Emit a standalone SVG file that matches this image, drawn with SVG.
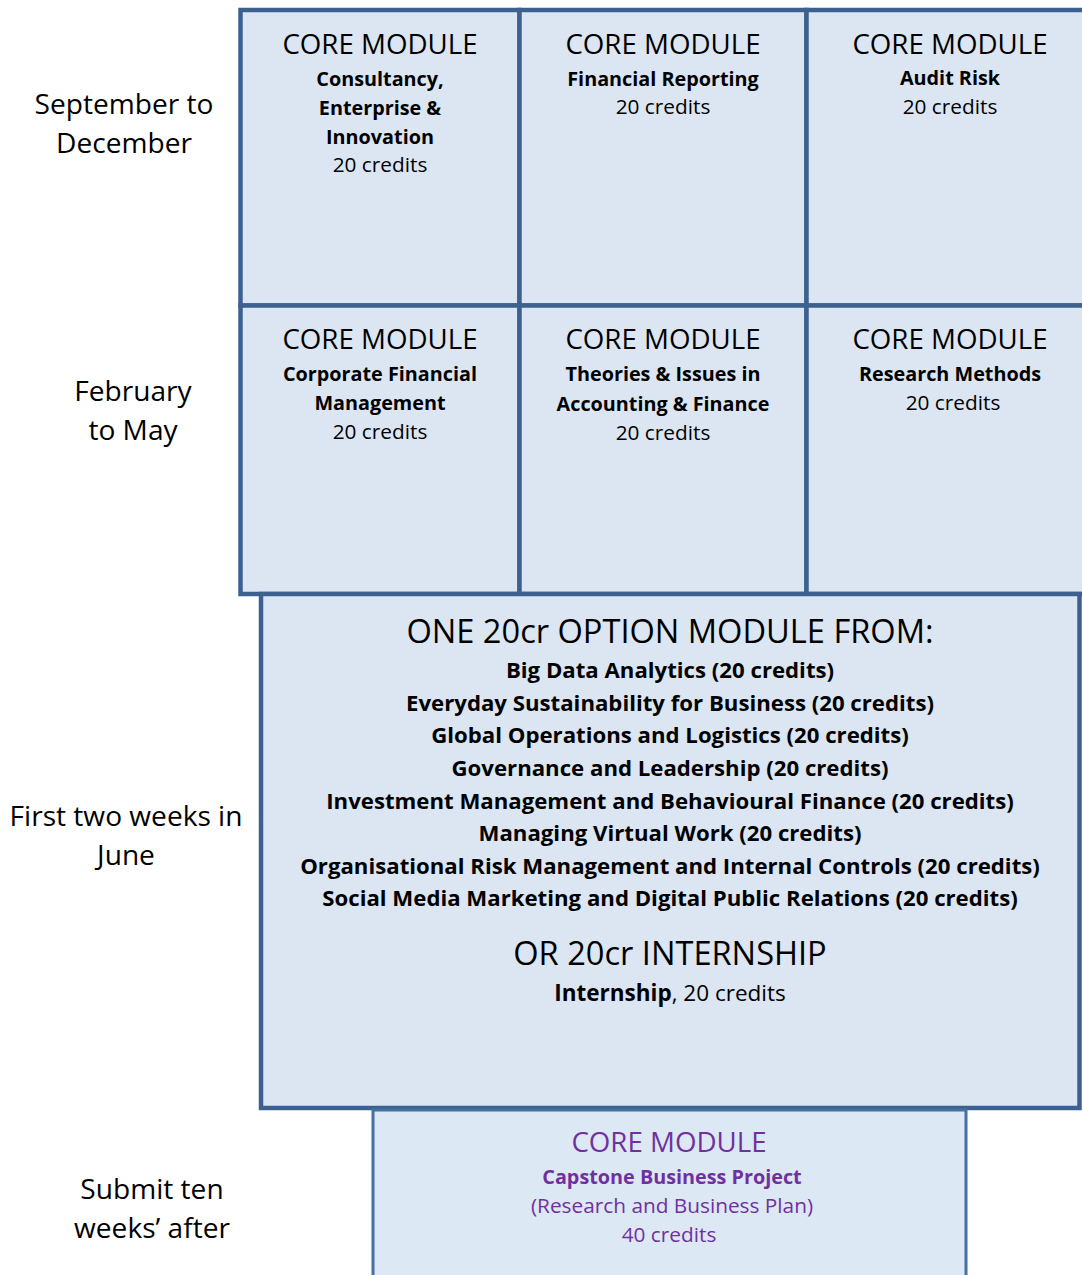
<svg xmlns="http://www.w3.org/2000/svg" width="1082" height="1275" viewBox="0 0 1082 1275">
<style>
text{font-family:"Open Sans","Noto Sans",sans-serif;fill:#000;text-anchor:middle}
.box{fill:#dce6f2;stroke:#3c6191;stroke-width:4.5}
.cap{fill:#dde8f5;stroke:#4570a0;stroke-width:3}
.h{font-size:27.7px}
.b{font-size:19.8px;font-weight:bold}
.n{font-size:20.8px}
.lab{font-size:28.1px}
.big{font-size:32.6px}
.ob{font-size:22.2px;font-weight:bold}
.on{font-size:22.5px}
.p{fill:#7030a0}
</style>
<rect width="1082" height="1275" fill="#fff"/>
<g id="labels">
<text class="lab" x="124" y="114">September to</text>
<text class="lab" x="124" y="153">December</text>
<text class="lab" x="133" y="401">February</text>
<text class="lab" x="133" y="440">to May</text>
<text class="lab" x="126" y="826">First two weeks in</text>
<text class="lab" x="126" y="865">June</text>
<text class="lab" x="152" y="1199">Submit ten</text>
<text class="lab" x="152" y="1238">weeks’ after</text>
</g>
<g id="m1">
<rect class="box" x="240.5" y="10" width="279" height="295.5"/>
<text class="h" x="380" y="54">CORE MODULE</text>
<text class="b" x="380" y="86">Consultancy,</text>
<text class="b" x="380" y="115">Enterprise &amp;</text>
<text class="b" x="380" y="144">Innovation</text>
<text class="n" x="380" y="172">20 credits</text>
</g>
<g id="m2">
<rect class="box" x="519.5" y="10" width="287" height="295.5"/>
<text class="h" x="663" y="54">CORE MODULE</text>
<text class="b" x="663" y="86">Financial Reporting</text>
<text class="n" x="663" y="114">20 credits</text>
</g>
<g id="m3">
<rect class="box" x="806.5" y="10" width="290" height="295.5"/>
<text class="h" x="950" y="54">CORE MODULE</text>
<text class="b" x="950" y="85">Audit Risk</text>
<text class="n" x="950" y="114">20 credits</text>
</g>
<g id="m4">
<rect class="box" x="240.5" y="305.5" width="279" height="288.5"/>
<text class="h" x="380" y="349">CORE MODULE</text>
<text class="b" x="380" y="381">Corporate Financial</text>
<text class="b" x="380" y="410">Management</text>
<text class="n" x="380" y="439">20 credits</text>
</g>
<g id="m5">
<rect class="box" x="519.5" y="305.5" width="287" height="288.5"/>
<text class="h" x="663" y="349">CORE MODULE</text>
<text class="b" x="663" y="381">Theories &amp; Issues in</text>
<text class="b" x="663" y="411">Accounting &amp; Finance</text>
<text class="n" x="663" y="440">20 credits</text>
</g>
<g id="m6">
<rect class="box" x="806.5" y="305.5" width="290" height="288.5"/>
<text class="h" x="950" y="349">CORE MODULE</text>
<text class="b" x="950" y="381">Research Methods</text>
<text class="n" x="953" y="410">20 credits</text>
</g>
<g id="options">
<rect class="box" x="261" y="594" width="818.5" height="514"/>
<text class="big" x="670" y="643">ONE 20cr OPTION MODULE FROM:</text>
<text class="ob" x="670" y="678">Big Data Analytics (20 credits)</text>
<text class="ob" x="670" y="711">Everyday Sustainability for Business (20 credits)</text>
<text class="ob" x="670" y="743">Global Operations and Logistics (20 credits)</text>
<text class="ob" x="670" y="776">Governance and Leadership (20 credits)</text>
<text class="ob" x="670" y="809">Investment Management and Behavioural Finance (20 credits)</text>
<text class="ob" x="670" y="841">Managing Virtual Work (20 credits)</text>
<text class="ob" x="670" y="874">Organisational Risk Management and Internal Controls (20 credits)</text>
<text class="ob" x="670" y="906">Social Media Marketing and Digital Public Relations (20 credits)</text>
<text class="big" x="670" y="965">OR 20cr INTERNSHIP</text>
<text class="on" x="670" y="1001"><tspan font-weight="bold">Internship</tspan>, 20 credits</text>
</g>
<g id="capstone">
<rect class="cap" x="373" y="1110" width="593" height="190"/>
<text class="h p" x="669" y="1152">CORE MODULE</text>
<text class="b p" x="672" y="1184">Capstone Business Project</text>
<text class="n p" x="672" y="1213">(Research and Business Plan)</text>
<text class="n p" x="669" y="1242">40 credits</text>
</g>
</svg>
